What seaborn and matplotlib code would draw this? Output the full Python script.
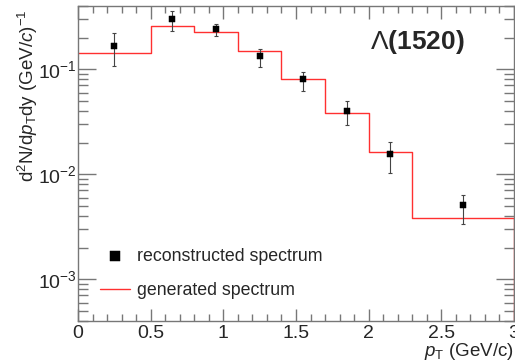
import numpy as np
import pandas as pd
import matplotlib
matplotlib.use('Agg')
import matplotlib.pyplot as plt
import matplotlib.ticker as mticker
import seaborn as sns

# 데이터: 생성 스펙트럼 (히스토그램 bin) 과 재구성 스펙트럼 (점 + 오차)
bin_edges = [0.0, 0.5, 0.8, 1.1, 1.4, 1.7, 2.0, 2.3, 3.0]
gen_values = [0.142, 0.260, 0.226, 0.149, 0.0815, 0.0379, 0.0161, 0.00379]

reco_pt = [0.25, 0.65, 0.95, 1.25, 1.55, 1.85, 2.15, 2.65]
reco_values = [0.167, 0.299, 0.242, 0.134, 0.080, 0.0404, 0.0156, 0.00504]
reco_err_low = [0.060, 0.069, 0.036, 0.029, 0.018, 0.0107, 0.0053, 0.00165]
reco_err_high = [0.052, 0.056, 0.028, 0.023, 0.015, 0.0092, 0.0047, 0.00132]

sns.set_style('ticks')
plt.rcParams['font.family'] = ['Liberation Sans', 'DejaVu Sans']
plt.rcParams['mathtext.fontset'] = 'custom'
plt.rcParams['mathtext.rm'] = 'Liberation Sans'
plt.rcParams['mathtext.it'] = 'Liberation Sans:italic'
plt.rcParams['mathtext.bf'] = 'Liberation Sans:bold'

fig = plt.figure(figsize=(5.15, 3.61), dpi=100)
ax = fig.add_axes([78 / 515, 1 - 321 / 361, 436 / 515, 315 / 361])

ymin, ymax = 4e-4, 0.4

# generated spectrum (step)
gen_df = pd.DataFrame({'pt': bin_edges, 'val': gen_values + [gen_values[-1]]})
sns.lineplot(data=gen_df, x='pt', y='val', drawstyle='steps-post', color='#ff3030',
             linewidth=1.0, ax=ax, label='generated spectrum', estimator=None, sort=False)
ax.vlines(bin_edges[-1], ymin, gen_values[-1], color='#ff3030', linewidth=1.0)

# reconstructed spectrum
reco_df = pd.DataFrame({'pt': reco_pt, 'val': reco_values})
ax.errorbar(reco_pt, reco_values, yerr=[reco_err_low, reco_err_high], fmt='none',
            ecolor='#444444', elinewidth=0.8, capsize=1.5, capthick=0.8, zorder=3)
sns.scatterplot(data=reco_df, x='pt', y='val', marker='s', s=19, color='black',
                edgecolor='black', ax=ax, label='reconstructed spectrum', zorder=4)

ax.set_yscale('log')
ax.set_xlim(0, 3)
ax.set_ylim(ymin, ymax)

ax.xaxis.set_major_locator(mticker.MultipleLocator(0.5))
ax.xaxis.set_minor_locator(mticker.MultipleLocator(0.1))
ax.xaxis.set_major_formatter(mticker.FuncFormatter(lambda v, p: f'{v:g}'))
ax.yaxis.set_major_locator(mticker.LogLocator(base=10))
ax.yaxis.set_minor_locator(mticker.LogLocator(base=10, subs=np.arange(2, 10)))
ax.yaxis.set_minor_formatter(mticker.NullFormatter())

ax.tick_params(which='both', direction='in', top=True, right=True, color='#777777',
               labelsize=14, width=1.0)
ax.tick_params(axis='x', which='major', length=9, pad=3)
ax.tick_params(axis='x', which='minor', length=5)
ax.tick_params(axis='y', which='major', length=13, pad=1)
ax.tick_params(axis='y', which='minor', length=7)
for sp in ax.spines.values():
    sp.set_color('#777777')
    sp.set_linewidth(1.0)

ax.set_xlabel('$p_{\\mathrm{T}}$ (GeV/c)', fontsize=13.5, ha='right')
ax.xaxis.set_label_coords(1.0, -0.062)
ax.set_ylabel('d$^{2}$N/d$p_{\\mathrm{T}}$dy (GeV/$c$)$^{-1}$', fontsize=13.5, ha='right')
ax.yaxis.set_label_coords(-0.087, 0.99)

ax.text(0.778, 0.886, '$\\Lambda$(1520)', transform=ax.transAxes, fontsize=19,
        fontweight='bold', ha='center', va='center')

handles, labels = ax.get_legend_handles_labels()
order = [labels.index('reconstructed spectrum'), labels.index('generated spectrum')]
ax.legend([handles[i] for i in order], [labels[i] for i in order], loc='lower left',
          bbox_to_anchor=(0.014, 0.019), frameon=False, fontsize=12.8, handlelength=1.7,
          labelspacing=0.98, handletextpad=0.4, markerscale=1.6)

fig.savefig('out.png', dpi=100)
